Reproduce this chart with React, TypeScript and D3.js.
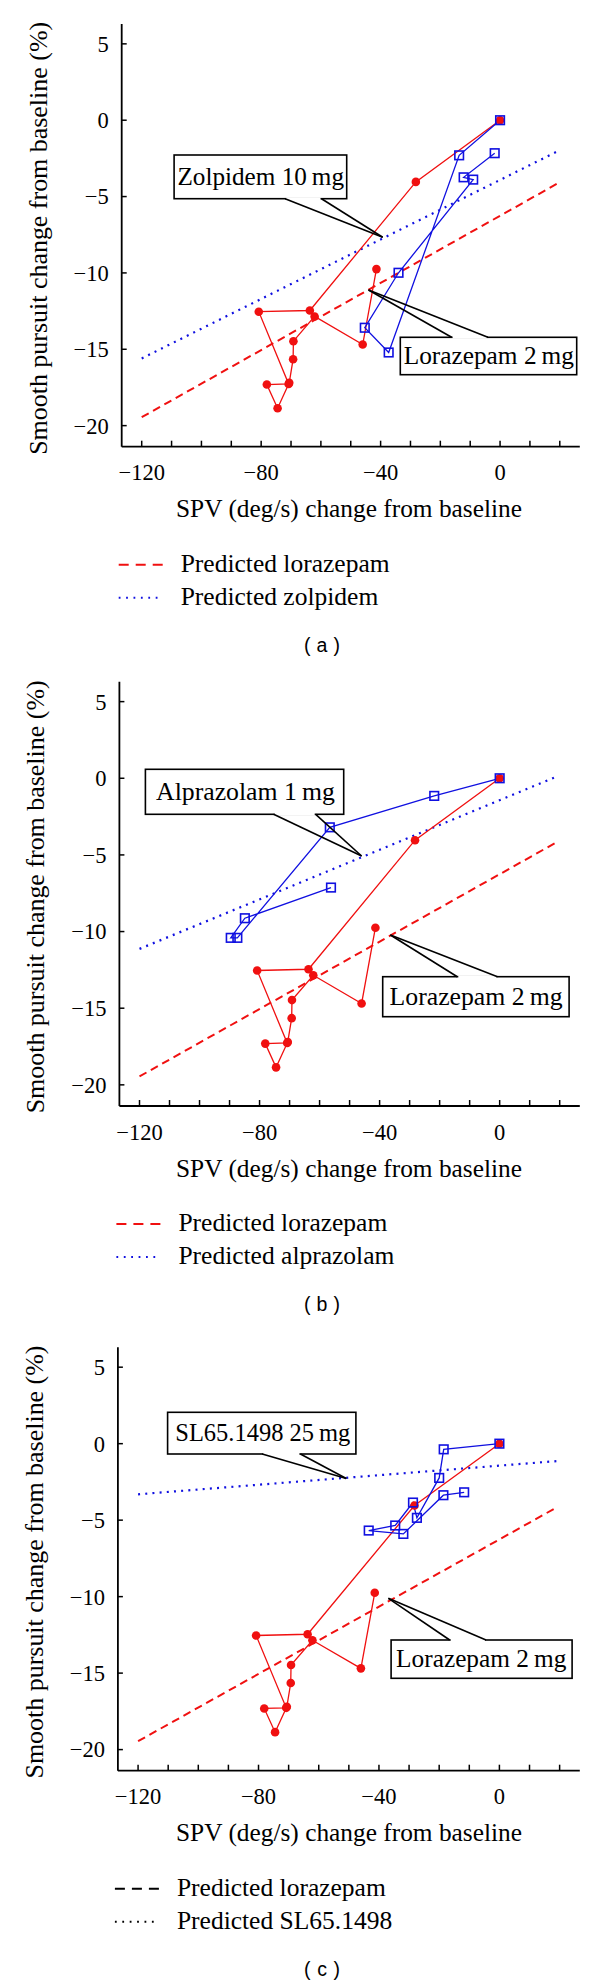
import React from "react";
import * as d3 from "d3";

// ---------- data ----------
// Observed lorazepam 2 mg (same in every panel): [SPV change, smooth pursuit change]
const lorazepamObsX = [0, -28.2, -63.7, -80.8, -70.8, -78.1, -74.5, -70.6, -69.3, -69.2, -62.1, -46.0, -41.4];
const lorazepamObsY = [0, -4.04, -12.46, -12.54, -17.27, -17.31, -18.86, -17.2, -15.65, -14.47, -12.85, -14.69, -9.75];

const zolpidemObsX = [0, -13.7, -37.3, -45.3, -34.0, -9.0, -12.2, -1.8];
const zolpidemObsY = [0, -2.30, -15.21, -13.59, -9.99, -3.89, -3.74, -2.16];

const alprazolamObsX = [0, -21.8, -56.6, -87.4, -89.6, -84.9, -56.2];
const alprazolamObsY = [0, -1.15, -3.20, -10.41, -10.41, -9.13, -7.13];

const slObsX = [0, -18.5, -20.0, -27.4, -28.7, -34.6, -43.4, -31.9, -18.6, -11.7];
const slObsY = [0, -0.37, -2.24, -4.85, -3.85, -5.35, -5.68, -5.90, -3.37, -3.18];

// Predicted lines (end points)
const predX = [-120, 19];
const predLorazepamY = [-19.45, -4.17];
const predZolpidemY = [-15.6, -2.06];
const predAlprazolamY = [-11.13, 0.11];
const predSLY = [-3.31, -1.14];

const xTicksMajor = [-120, -80, -40, 0];
const xTicksAll = [-120, -110, -100, -90, -80, -70, -60, -50, -40, -30, -20, -10, 0, 10, 20];
const yTicks = [5, 0, -5, -10, -15, -20];

const xDomain: [number, number] = [-126.7, 26.7];
const yDomain: [number, number] = [-21.38, 6.3];

const RED = "#f01010";
const BLUE = "#1010e0";
const SERIF = "'Liberation Serif','Times New Roman',serif";
const SANS = "'Liberation Sans',Arial,sans-serif";

const zip = (xs: number[], ys: number[]) => xs.map((x, i) => [x, ys[i]] as [number, number]);

type Box = {
  text: string; x1: number; y1: number; x2: number; y2: number;
  side: "top" | "bottom"; b1: number; b2: number; tip: [number, number];
  t1: number; t2: number;
};

type Panel = {
  left: number; top: number; bottom: number; right: number;
  blueX: number[]; blueY: number[]; predBlueY: number[];
  legend: [string, string]; legendColors: [string, string];
  caption: string; boxes: Box[];
};

const panels: Panel[] = [
  {
    left: 121.7, top: 24, bottom: 446.7, right: 579.8,
    blueX: zolpidemObsX, blueY: zolpidemObsY, predBlueY: predZolpidemY,
    legend: ["Predicted lorazepam", "Predicted zolpidem"], legendColors: [RED, BLUE],
    caption: "( a )",
    boxes: [
      { text: "Zolpidem 10\u2009mg", x1: 174.1, y1: 155, x2: 346.7, y2: 198.7, side: "bottom", b1: 285.1, b2: 321.5, tip: [382.7, 237.3], t1: 177.5, t2: 344 },
      { text: "Lorazepam 2\u2009mg", x1: 400.3, y1: 337.3, x2: 576.7, y2: 374.7, side: "top", b1: 451.6, b2: 487.9, tip: [368.5, 290], t1: 403.7, t2: 574 },
    ],
  },
  {
    left: 119.4, top: 681.7, bottom: 1106, right: 579.8,
    blueX: alprazolamObsX, blueY: alprazolamObsY, predBlueY: predAlprazolamY,
    legend: ["Predicted lorazepam", "Predicted alprazolam"], legendColors: [RED, BLUE],
    caption: "( b )",
    boxes: [
      { text: "Alprazolam 1\u2009mg", x1: 145.4, y1: 769.3, x2: 343.7, y2: 814.3, side: "bottom", b1: 273.6, b2: 315.7, tip: [361.6, 856], t1: 156.1, t2: 334.9 },
      { text: "Lorazepam 2\u2009mg", x1: 382.7, y1: 976.7, x2: 569.1, y2: 1016.7, side: "top", b1: 457.3, b2: 497.5, tip: [390.4, 935], t1: 389.6, t2: 562.6 },
    ],
  },
  {
    left: 117.9, top: 1347.3, bottom: 1770.7, right: 579.8,
    blueX: slObsX, blueY: slObsY, predBlueY: predSLY,
    legend: ["Predicted lorazepam", "Predicted SL65.1498"], legendColors: ["#000", "#000"],
    caption: "( c )",
    boxes: [
      { text: "SL65.1498 25\u2009mg", x1: 167.6, y1: 1412.3, x2: 355.9, y2: 1454, side: "bottom", b1: 262.2, b2: 300.4, tip: [346.3, 1478.5], t1: 175.3, t2: 350.2 },
      { text: "Lorazepam 2\u2009mg", x1: 391.1, y1: 1640, x2: 572.1, y2: 1678.3, side: "top", b1: 449.7, b2: 486, tip: [388.4, 1598.3], t1: 396.1, t2: 566.4 },
    ],
  },
];

function Annotation({ b }: { b: Box }) {
  const ey = b.side === "top" ? b.y1 : b.y2;
  const cy = (b.y1 + b.y2) / 2;
  return (
    <g>
      <rect x={b.x1} y={b.y1} width={b.x2 - b.x1} height={b.y2 - b.y1} fill="#fff" stroke="#000" strokeWidth={1.6} />
      <line x1={b.b1 + 1} y1={ey} x2={b.b2 - 1} y2={ey} stroke="#fff" strokeWidth={2.4} />
      <line x1={b.b1} y1={ey} x2={b.tip[0]} y2={b.tip[1]} stroke="#000" strokeWidth={1.6} />
      <line x1={b.b2} y1={ey} x2={b.tip[0]} y2={b.tip[1]} stroke="#000" strokeWidth={1.6} />
      <text x={(b.t1 + b.t2) / 2} y={cy + 8} textAnchor="middle" fontFamily={SERIF} fontSize={25}
        textLength={b.t2 - b.t1} lengthAdjust="spacingAndGlyphs" fill="#000">{b.text}</text>
    </g>
  );
}

function PanelView({ p }: { p: Panel }) {
  const x = d3.scaleLinear().domain(xDomain).range([p.left, p.right]);
  const y = d3.scaleLinear().domain(yDomain).range([p.bottom, p.top]);
  const line = d3.line<[number, number]>().x((d) => x(d[0])).y((d) => y(d[1]));
  const red = zip(lorazepamObsX, lorazepamObsY);
  const blue = zip(p.blueX, p.blueY);
  const sq = 8.6;
  const midY = (p.top + p.bottom) / 2;
  return (
    <g>
      {/* predicted */}
      <path d={line(zip(predX, predLorazepamY)) || ""} stroke={RED} strokeWidth={2} strokeDasharray="8,5" fill="none" />
      <path d={line(zip(predX, p.predBlueY)) || ""} stroke={BLUE} strokeWidth={2.2} strokeDasharray="2,5.2" fill="none" />
      {/* observed */}
      <path d={line(red) || ""} stroke={RED} strokeWidth={1.3} fill="none" />
      <path d={line(blue) || ""} stroke={BLUE} strokeWidth={1.3} fill="none" />
      {red.map((d, i) => (
        <circle key={"r" + i} cx={x(d[0])} cy={y(d[1])} r={4.3} fill={RED} />
      ))}
      {blue.map((d, i) => (
        <rect key={"b" + i} x={x(d[0]) - sq / 2} y={y(d[1]) - sq / 2} width={sq} height={sq} fill="none" stroke={BLUE} strokeWidth={1.6} />
      ))}
      {/* axes */}
      <line x1={p.left} y1={p.top} x2={p.left} y2={p.bottom} stroke="#000" strokeWidth={1.8} />
      <line x1={p.left} y1={p.bottom} x2={p.right} y2={p.bottom} stroke="#000" strokeWidth={1.8} />
      {yTicks.map((t) => (
        <g key={"yt" + t}>
          <line x1={p.left} x2={p.left + 5} y1={y(t)} y2={y(t)} stroke="#000" strokeWidth={1.5} />
          <text x={p.left - 13} y={y(t)} dy="0.35em" textAnchor="end" fontFamily={SERIF} fontSize={22.5} fill="#000">
            {t < 0 ? "\u2212" + Math.abs(t) : String(t)}
          </text>
        </g>
      ))}
      {xTicksAll.map((t) => (
        <line key={"xt" + t} x1={x(t)} x2={x(t)} y1={p.bottom} y2={p.bottom - 6} stroke="#000" strokeWidth={1.5} />
      ))}
      {xTicksMajor.map((t) => (
        <text key={"xl" + t} x={x(t)} y={p.bottom + 33.5} textAnchor="middle" fontFamily={SERIF} fontSize={22.5} fill="#000">
          {t < 0 ? "\u2212" + Math.abs(t) : String(t)}
        </text>
      ))}
      <text x={349} y={p.bottom + 70.5} textAnchor="middle" fontFamily={SERIF} fontSize={25.5}
        textLength={346} lengthAdjust="spacingAndGlyphs" fill="#000">SPV (deg/s) change from baseline</text>
      <text transform={`translate(${p.left - 75},${midY + 3}) rotate(-90)`} textAnchor="middle" fontFamily={SERIF}
        fontSize={25.5} textLength={433} lengthAdjust="spacingAndGlyphs" fill="#000">
        Smooth pursuit change from baseline (%)
      </text>
      {/* annotations */}
      {p.boxes.map((b, i) => <Annotation key={"a" + i} b={b} />)}
      {/* legend */}
      <line x1={p.left - 3} x2={p.left + 41} y1={p.bottom + 118} y2={p.bottom + 118} stroke={p.legendColors[0]} strokeWidth={2} strokeDasharray="10,7" />
      <line x1={p.left - 3} x2={p.left + 41} y1={p.bottom + 151} y2={p.bottom + 151} stroke={p.legendColors[1]} strokeWidth={2} strokeDasharray="1.8,5.6" />
      <text x={p.left + 59} y={p.bottom + 125} fontFamily={SERIF} fontSize={25.5} fill="#000">{p.legend[0]}</text>
      <text x={p.left + 59} y={p.bottom + 158} fontFamily={SERIF} fontSize={25.5} fill="#000">{p.legend[1]}</text>
      <text x={322} y={p.bottom + 205} textAnchor="middle" fontFamily={SANS} fontSize={19.5}
        textLength={36} lengthAdjust="spacing" fill="#000">{p.caption}</text>
    </g>
  );
}

export default function App() {
  return (
    <svg width={600} height={1986} style={{ position: "absolute", left: 0, top: 0, background: "#fff" }}>
      <rect width={600} height={1986} fill="#fff" />
      {panels.map((p, i) => <PanelView key={i} p={p} />)}
    </svg>
  );
}
